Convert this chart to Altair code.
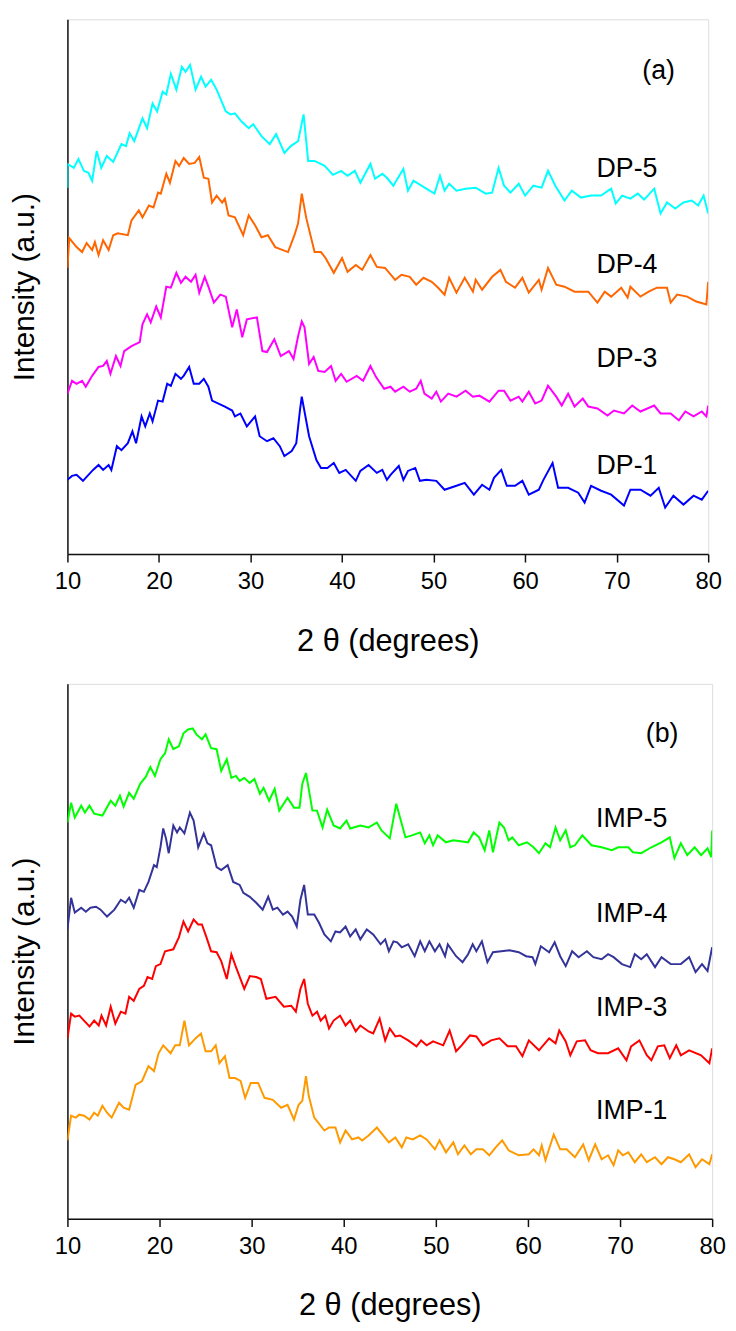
import altair as alt
import pandas as pd

FONT = "Liberation Sans"
TICKS = [10, 20, 30, 40, 50, 60, 70, 80]

# ---------- panel (a): DP samples, (2theta, intensity a.u.) ----------
DP5 = [(10.0,370),(10.0,394),(10.7,390),(11.2,399),(11.8,387),(12.3,385),(12.7,377),(13.2,407),(13.7,390),
       (14.3,402),(15.0,396),(15.9,414),(16.4,412),(16.8,425),(17.3,417),(18.2,440),(18.7,430),(19.3,455),
       (19.8,447),(20.4,467),(20.8,464),(21.3,485),(21.9,469),(22.5,492),(22.9,487),(23.4,494),(24.0,469),
       (24.6,482),(25.1,472),(25.7,479),(26.3,469),(27.3,447),(27.8,444),(28.3,445),(29.0,437),(29.8,430),
       (30.3,434),(31.2,422),(32.1,414),(32.8,424),(33.7,405),(34.4,412),(35.2,417),(35.8,444),(36.3,397),
       (37.0,397),(38.1,392),(39.0,383),(39.9,387),(40.6,382),(41.4,387),(42.0,375),(43.1,394),(43.6,379),
       (44.4,384),(44.9,380),(45.6,372),(46.7,389),(47.2,367),(47.8,377),(49.2,369),(50.1,364),(50.7,382),
       (51.2,367),(51.7,374),(52.5,367),(53.5,369),(54.6,370),(55.7,364),(56.4,365),(57.1,390),(57.7,372),
       (58.4,365),(59.3,374),(60.0,362),(60.9,372),(61.8,370),(62.5,387),(63.3,372),(64.3,357),(65.1,367),
       (66.1,360),(67.2,362),(68.3,362),(69.4,369),(69.9,354),(70.6,362),(71.5,359),(72.3,364),(73.0,358),
       (74.1,369),(74.8,344),(75.5,355),(76.4,349),(77.3,355),(78.2,357),(78.9,352),(79.5,362),(80.0,344)]

DP4 = [(10.0,289),(10.2,319),(11.0,310),(11.6,305),(12.1,314),(12.7,307),(13.0,315),(13.4,302),(13.9,317),
       (14.5,307),(15.0,322),(15.5,324),(16.6,322),(17.0,337),(17.8,347),(18.2,340),(18.9,352),(19.4,350),
       (19.9,365),(20.2,364),(20.8,384),(21.2,375),(21.8,397),(22.2,392),(22.7,400),(23.3,394),(23.9,395),
       (24.4,401),(24.9,380),(25.4,379),(25.8,355),(26.3,362),(26.9,355),(27.2,359),(27.6,342),(28.3,340),
       (29.2,322),(29.8,342),(30.5,332),(31.2,320),(31.9,322),(32.7,310),(34.1,305),(34.8,322),(35.2,334),
       (35.6,364),(36.1,339),(37.0,305),(37.7,305),(38.2,299),(39.1,284),(40.0,299),(40.6,285),(41.5,292),
       (42.2,287),(43.1,302),(43.8,290),(44.7,289),(45.8,277),(46.5,282),(47.4,280),(48.1,272),(48.9,279),
       (49.8,275),(50.5,269),(51.2,262),(51.7,279),(52.5,264),(53.4,279),(54.3,265),(54.6,277),(55.3,267),
       (56.4,280),(57.3,287),(57.9,275),(58.9,269),(59.7,279),(60.4,264),(61.5,277),(61.8,267),(62.5,289),
       (63.4,272),(64.3,270),(65.4,265),(66.9,265),(67.9,254),(68.7,265),(69.4,260),(70.5,269),(71.2,259),
       (71.5,270),(72.6,260),(73.5,265),(74.4,269),(75.5,269),(75.9,254),(76.6,262),(77.7,260),(78.7,255),
       (79.8,252),(80.0,275)]

DP3 = [(10.0,162),(10.5,175),(11.0,172),(11.6,175),(12.0,169),(12.7,180),(13.4,189),(13.9,190),(14.3,195),
       (14.7,182),(15.3,200),(15.8,190),(16.2,205),(17.0,210),(17.9,214),(18.2,232),(18.7,242),(19.1,234),
       (19.7,250),(20.2,239),(20.8,270),(21.3,269),(21.9,284),(22.4,274),(22.9,280),(23.5,275),(24.0,282),
       (24.4,264),(25.0,280),(25.4,270),(26.0,254),(26.7,262),(27.3,260),(28.0,229),(28.5,247),(29.1,219),
       (29.6,237),(30.7,239),(31.3,205),(31.8,204),(32.6,217),(33.3,200),(34.2,205),(34.7,197),(35.2,220),
       (35.6,235),(35.9,229),(36.4,192),(36.9,199),(37.4,185),(38.1,184),(38.8,190),(39.3,175),(39.9,182),
       (40.5,174),(41.6,180),(42.3,175),(43.1,190),(43.7,179),(44.6,167),(45.3,169),(45.8,164),(46.7,169),
       (47.4,164),(48.1,167),(48.6,175),(49.0,162),(49.8,157),(50.3,164),(50.8,154),(51.6,162),(52.5,159),
       (53.5,165),(54.3,159),(55.0,160),(56.1,154),(57.1,165),(57.7,165),(58.4,155),(59.3,159),(59.7,154),
       (60.4,164),(61.1,152),(61.8,155),(62.5,170),(63.4,159),(64.0,150),(64.7,162),(65.4,149),(66.3,157),
       (66.9,149),(67.9,147),(69.0,140),(69.7,145),(70.8,142),(71.7,150),(72.6,144),(74.1,150),(74.8,142),
       (75.9,142),(76.8,135),(77.5,144),(78.4,139),(79.3,144),(79.8,139),(80.0,150)]

DP1 = [(10.0,75),(10.5,79),(11.0,80),(11.7,74),(12.3,80),(12.8,85),(13.4,90),(13.9,85),(14.5,90),(14.8,85),
       (15.4,109),(15.9,105),(16.6,112),(17.1,124),(17.5,112),(18.1,139),(18.5,129),(19.0,142),(19.3,134),
       (19.9,155),(20.4,154),(20.9,172),(21.3,170),(21.8,182),(22.4,177),(22.7,180),(23.3,189),(23.8,172),
       (24.4,172),(24.9,177),(25.4,169),(25.8,155),(26.5,152),(27.2,149),(28.0,145),(28.3,139),(28.9,142),
       (29.6,129),(30.5,139),(31.0,119),(31.8,114),(32.5,117),(33.2,109),(33.7,99),(34.5,104),(35.0,112),
       (35.4,145),(35.6,159),(36.0,139),(36.4,119),(37.2,95),(37.7,87),(38.4,87),(39.1,92),(39.7,82),
       (40.4,85),(41.5,74),(42.0,84),(42.9,90),(43.8,82),(44.4,85),(44.9,75),(45.3,80),(46.2,89),(46.7,75),
       (47.2,84),(48.0,87),(48.5,74),(49.2,75),(50.3,74),(51.2,65),(52.5,69),(53.4,72),(54.4,60),(55.3,70),
       (56.1,65),(56.6,77),(57.4,85),(58.0,69),(58.9,69),(59.7,74),(60.4,60),(61.5,65),(62.0,75),(63.0,92),
       (63.6,67),(64.7,67),(65.8,62),(66.5,52),(67.2,69),(68.3,64),(69.4,60),(70.8,49),(71.5,65),(72.6,65),
       (73.7,59),(74.6,67),(75.3,47),(76.2,59),(77.3,50),(78.4,59),(79.3,55),(80.0,64)]

# ---------- panel (b): IMP samples ----------
IMP5 = [(10.0,400),(10.4,420),(10.8,405),(11.5,417),(11.9,410),(12.4,417),(12.9,409),(13.8,407),(14.7,422),
        (15.2,417),(15.7,427),(16.1,416),(16.7,430),(17.2,424),(17.9,439),(18.5,446),(19.0,456),(19.5,447),
        (20.1,464),(20.6,470),(21.0,484),(21.5,474),(22.1,477),(22.6,490),(23.1,494),(23.6,495),(24.0,489),
        (24.6,484),(25.0,489),(25.6,475),(26.2,474),(26.7,452),(27.3,464),(27.8,445),(28.3,447),(28.7,442),
        (29.2,445),(29.8,440),(30.3,444),(30.9,429),(31.3,435),(31.9,422),(32.5,434),(33.0,412),(33.9,425),
        (34.6,415),(35.2,415),(35.5,439),(35.9,450),(36.2,434),(36.6,412),(37.1,412),(37.7,395),(38.2,413),
        (38.9,397),(39.6,394),(40.3,402),(40.7,394),(41.8,397),(42.7,395),(43.6,400),(44.1,392),(45.0,384),
        (45.7,419),(46.7,385),(47.4,387),(48.3,390),(48.8,379),(49.3,387),(49.7,377),(50.2,387),(51.1,380),
        (51.9,382),(53.5,380),(54.1,390),(54.7,385),(55.3,372),(55.8,392),(56.2,370),(56.9,400),(57.4,395),
        (57.9,382),(58.3,385),(59.0,377),(59.9,380),(60.6,375),(61.2,369),(61.9,379),(62.4,375),(63.0,395),
        (63.5,382),(64.1,392),(64.6,375),(65.1,377),(65.9,387),(66.9,377),(68.0,375),(69.1,372),(69.8,375),
        (70.9,375),(71.4,370),(72.3,369),(73.4,375),(74.5,380),(75.4,385),(75.9,364),(76.6,379),(77.3,367),
        (78.1,375),(78.8,367),(79.5,374),(79.9,365),(80.0,392)]

IMP4 = [(10.0,292),(10.4,324),(10.8,309),(11.5,314),(12.0,310),(12.5,314),(13.1,315),(13.6,312),(14.3,305),
        (15.1,312),(15.8,322),(16.3,319),(16.7,324),(17.2,314),(17.8,332),(18.3,330),(18.8,340),(19.4,357),
        (19.7,355),(20.1,375),(20.4,394),(20.7,384),(21.0,369),(21.5,397),(21.9,390),(22.2,395),(22.7,389),
        (23.3,410),(23.7,402),(24.2,375),(24.8,389),(25.2,379),(25.6,377),(26.2,355),(26.7,352),(27.4,357),
        (28.0,340),(28.7,337),(29.1,329),(29.8,325),(30.5,319),(31.2,312),(31.8,325),(32.3,312),(32.8,314),
        (33.4,307),(33.9,310),(34.4,305),(34.9,295),(35.3,322),(35.7,337),(36.1,307),(36.8,307),(37.3,299),
        (37.9,287),(38.6,280),(39.1,290),(39.6,289),(40.2,295),(40.7,285),(41.3,292),(41.8,282),(42.5,292),
        (43.2,287),(44.0,277),(44.5,282),(44.9,270),(45.4,280),(45.8,279),(46.3,274),(47.0,277),(47.7,265),
        (48.3,280),(48.8,270),(49.3,280),(49.9,270),(50.4,277),(51.0,265),(51.3,277),(52.2,265),(52.9,259),
        (53.5,267),(54.0,277),(54.4,270),(55.0,280),(55.6,259),(56.2,269),(57.1,270),(58.0,271),(59.0,269),
        (59.8,265),(60.5,264),(60.8,257),(61.4,275),(62.3,269),(62.9,279),(63.5,265),(64.1,255),(64.8,270),
        (65.5,264),(66.4,270),(67.1,264),(68.0,262),(68.7,267),(69.3,264),(70.2,257),(71.1,254),(71.6,267),
        (72.3,262),(72.9,267),(73.8,254),(74.5,264),(75.5,257),(76.6,257),(77.5,264),(78.2,249),(78.9,257),
        (79.5,250),(80.0,274)]

IMP3 = [(10.0,182),(10.4,207),(10.8,204),(11.3,205),(11.8,200),(12.4,194),(12.9,200),(13.4,195),(13.7,205),
        (14.2,195),(14.7,214),(15.2,197),(15.8,209),(16.3,207),(16.7,224),(17.2,220),(17.8,232),(18.3,235),
        (18.7,244),(19.2,242),(19.6,255),(20.1,257),(20.6,270),(21.5,272),(22.1,284),(22.6,300),(23.1,290),
        (23.7,302),(24.2,297),(24.6,297),(25.1,284),(25.6,270),(26.2,269),(26.7,260),(27.3,242),(27.8,267),
        (28.3,254),(29.2,232),(29.8,245),(30.5,244),(31.0,242),(31.6,222),(32.6,224),(33.5,214),(34.3,215),
        (34.8,209),(35.3,232),(35.7,242),(36.1,217),(36.6,205),(37.1,209),(37.5,200),(38.0,205),(38.4,192),
        (38.9,200),(39.6,205),(40.2,195),(40.7,200),(41.3,189),(41.8,195),(42.7,189),(43.2,187),(43.9,202),
        (44.5,180),(45.0,192),(45.6,184),(46.1,185),(47.0,180),(47.9,174),(48.4,180),(49.0,175),(49.7,179),
        (50.8,175),(51.5,190),(52.2,169),(52.8,175),(53.7,185),(54.4,184),(55.1,175),(56.0,180),(56.9,182),
        (57.8,174),(58.7,174),(59.4,164),(60.1,180),(61.2,170),(62.3,182),(63.0,177),(63.4,190),(64.1,179),
        (64.6,165),(65.3,179),(66.2,180),(66.8,170),(67.6,167),(68.7,167),(69.8,172),(70.7,160),(71.2,174),
        (72.1,180),(72.9,165),(73.4,160),(74.1,174),(74.8,175),(75.4,162),(76.1,175),(76.6,165),(77.5,170),
        (78.8,165),(79.7,157),(80.0,172)]

IMP1 = [(10.0,79),(10.4,104),(10.9,102),(11.3,105),(11.8,104),(12.4,100),(12.9,107),(13.3,104),(13.8,114),
        (14.3,107),(14.8,102),(15.6,117),(16.1,112),(16.7,110),(17.4,135),(18.1,139),(18.8,154),(19.4,149),
        (19.9,167),(20.4,175),(21.2,167),(21.7,175),(22.2,175),(22.7,200),(23.2,175),(23.9,182),(24.5,187),
        (25.0,169),(25.6,169),(26.1,175),(26.5,157),(27.1,164),(27.6,142),(28.2,142),(28.8,139),(29.3,122),
        (29.9,137),(30.7,137),(31.4,122),(32.3,120),(33.2,112),(33.9,115),(34.6,100),(35.1,115),(35.5,119),
        (35.9,144),(36.2,124),(36.8,102),(37.9,89),(38.4,92),(39.1,92),(39.6,77),(40.2,89),(40.9,80),(41.6,82),
        (42.0,79),(42.7,84),(43.6,92),(44.9,77),(45.6,82),(46.3,72),(46.8,82),(47.5,80),(48.3,84),(49.0,80),
        (49.9,70),(50.4,79),(51.1,67),(51.9,77),(52.4,65),(53.1,74),(53.8,65),(54.4,70),(55.1,70),(55.8,64),
        (56.5,72),(57.2,79),(57.9,69),(59.0,64),(60.1,65),(60.6,70),(61.2,64),(61.5,74),(61.9,59),(62.8,85),
        (63.5,70),(64.2,70),(65.1,62),(66.0,75),(66.6,59),(67.3,75),(68.0,60),(68.7,64),(69.3,54),(69.8,69),
        (70.3,64),(70.9,67),(71.6,57),(72.3,65),(72.9,57),(73.8,62),(74.5,55),(75.2,62),(75.9,60),(76.6,57),
        (77.5,65),(78.2,52),(78.9,60),(79.7,55),(80.0,65)]

A_NAMES = ["DP-5", "DP-4", "DP-3", "DP-1"]
A_COLORS = ["#00FFFF", "#FF6600", "#FF00FF", "#0000FF"]
A_LABEL_X = [67.8, 67.8, 67.8, 67.8]
A_LABEL_Y = [389, 292, 197, 89]

B_NAMES = ["IMP-5", "IMP-4", "IMP-3", "IMP-1"]
B_COLORS = ["#00FF00", "#333399", "#FF0000", "#FF9900"]
B_LABEL_X = [67.4, 67.4, 67.4, 67.4]
B_LABEL_Y = [403, 308, 213, 109]

PANEL_TAGS = ["(a)", "(b)"]
TAG_X = [72.8, 72.8]
TAG_Y = [488, 489]


def long_table(names, series):
    rows = []
    for name, pts in zip(names, series):
        for i, (t, v) in enumerate(pts):
            rows.append({"series": name, "theta": t, "intensity": v, "idx": i})
    return pd.DataFrame(rows)


def panel(names, colors, series, lx, ly, tag, tx, ty, width):
    df = long_table(names, series)
    labels = pd.DataFrame({"theta": lx + [tx], "intensity": ly + [ty], "label": names + [tag]})
    x = alt.X("theta:Q",
              scale=alt.Scale(domain=[10, 80], nice=False, zero=False),
              axis=alt.Axis(values=TICKS, title="2 θ (degrees)", grid=False,
                            tickSize=8, tickWidth=1.5, tickColor="#111",
                            domainColor="#111", domainWidth=1.5,
                            labelFontSize=24, labelFont=FONT, labelColor="#000",
                            labelPadding=8, labelFlush=False,
                            titleFontSize=31, titleFont=FONT, titleFontWeight="normal",
                            titleColor="#000", titlePadding=33))
    y = alt.Y("intensity:Q",
              scale=alt.Scale(domain=[0, 540], nice=False, zero=False),
              axis=alt.Axis(title="Intensity (a.u.)", labels=False, ticks=False, grid=False,
                            domainColor="#111", domainWidth=1.5,
                            titleFontSize=30, titleFont=FONT, titleFontWeight="normal",
                            titleColor="#000", titlePadding=28))
    lines = alt.Chart(df).mark_line(strokeWidth=2, interpolate="linear", clip=True).encode(
        x=x, y=y,
        color=alt.Color("series:N", scale=alt.Scale(domain=names, range=colors), legend=None),
        detail="series:N",
        order="idx:Q",
    )
    text = alt.Chart(labels).mark_text(align="left", baseline="middle", fontSize=27,
                                        font=FONT, color="#000").encode(
        x="theta:Q", y="intensity:Q", text="label:N")
    return alt.layer(lines, text).properties(width=width, height=540)


pa = panel(A_NAMES, A_COLORS, [DP5, DP4, DP3, DP1], A_LABEL_X, A_LABEL_Y,
           PANEL_TAGS[0], TAG_X[0], TAG_Y[0], 647)
pb = panel(B_NAMES, B_COLORS, [IMP5, IMP4, IMP3, IMP1], B_LABEL_X, B_LABEL_Y,
           PANEL_TAGS[1], TAG_X[1], TAG_Y[1], 651)

chart = alt.vconcat(pa, pb, spacing=26).resolve_scale(color="independent").properties(
    padding={"left": 1, "top": 4, "right": 2, "bottom": 2}
).configure_view(stroke="#111", strokeWidth=1.5).configure(background="white")

chart.save("out.html", embed_options={"renderer": "svg", "actions": False})
